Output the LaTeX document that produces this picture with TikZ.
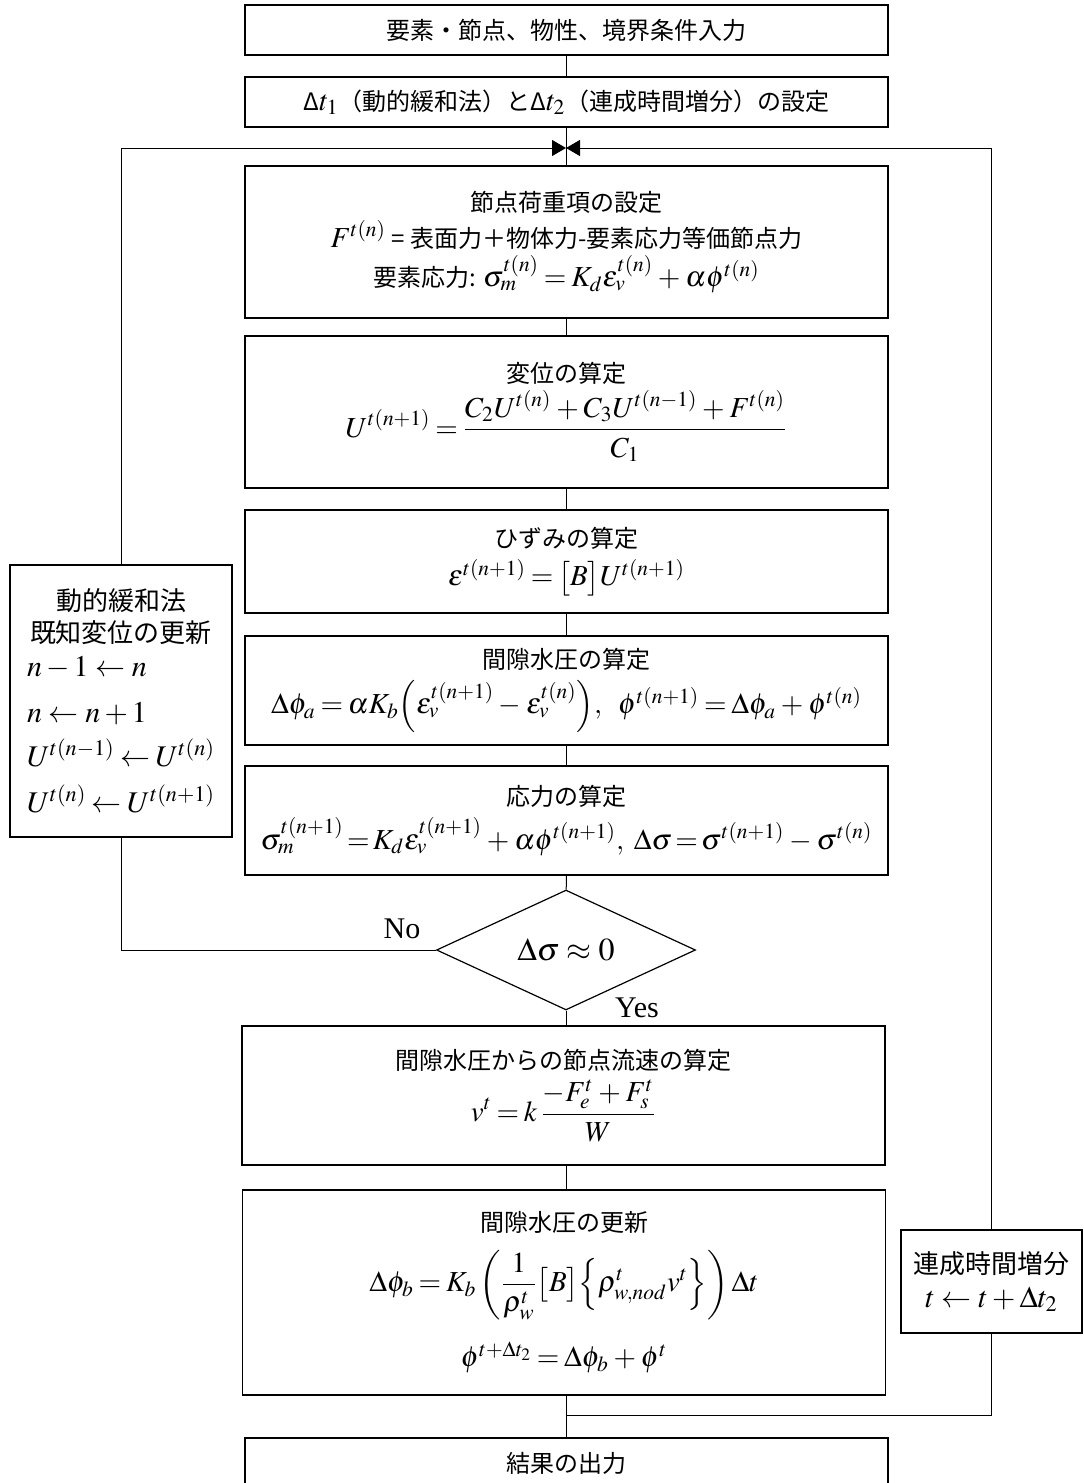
\documentclass[tikz,border=0pt]{standalone}
\usepackage{amsmath}
\usepackage{mathptmx}
\usepackage[no-math]{fontspec}
\setmainfont{Liberation Serif}
\newfontfamily\jp{Noto Sans CJK JP}
\usetikzlibrary{shapes.geometric,arrows.meta}
\newcommand{\eqsize}{\fontsize{14.5}{18}\selectfont\thickmuskip=3mu plus 2mu\medmuskip=3mu plus 1mu}
\newcommand{\sidesize}{\fontsize{15}{19}\selectfont}

\begin{document}
\begin{tikzpicture}[x=0.5pt,y=-0.5pt,
box/.style={draw,line width=0.6pt,minimum width=321.5pt,inner sep=0pt,align=center,font=\jp\fontsize{12}{15}\selectfont},
sidebox/.style={draw,line width=0.6pt,inner sep=0pt,font=\jp\fontsize{13}{17}\selectfont},
link/.style={line width=0.5pt},
back/.style={line width=0.5pt,-{Triangle[length=7pt,width=8pt]}}]
\useasboundingbox (0,0) rectangle (1083,1483);

\node (in1) [box,minimum height=25pt] at (566.5,30) {要素・節点、物性、境界条件入力};
\node (in2) [box,minimum height=25pt] at (566.5,102)
    {Δ{\rmfamily\eqsize$t_1$}（動的緩和法）とΔ{\rmfamily\eqsize$t_2$}（連成時間増分）の設定};
\node (load) [box,minimum height=76pt] at (566.5,242) {節点荷重項の設定\\[3pt]
    {\eqsize$F^{t(n)}$} = 表面力＋物体力-要素応力等価節点力\\[2pt]
    要素応力: {\eqsize$\sigma_m^{t(n)} = K_d\varepsilon_v^{t(n)} + \alpha\phi^{t(n)}$}};
\node (disp) [box,minimum height=76pt] at (566.5,412) {変位の算定\\[2pt]
    {\eqsize$\displaystyle U^{t(n+1)} = \frac{C_2U^{t(n)} + C_3U^{t(n-1)} + F^{t(n)}}{C_1}$}};
\node (strain) [box,minimum height=51.5pt] at (566.5,561.5) {ひずみの算定\\[4pt]
    {\eqsize$\varepsilon^{t(n+1)} = \bigl[B\bigr]U^{t(n+1)}$}};
\node (pore) [box,minimum height=54.5pt] at (566.5,690.5) {間隙水圧の算定\\[4pt]
    {\eqsize$\Delta\phi_a = \alpha K_b\Bigl(\varepsilon_v^{t(n+1)} - \varepsilon_v^{t(n)}\Bigr),\ \ \phi^{t(n+1)} = \Delta\phi_a + \phi^{t(n)}$}};
\node (stress) [box,minimum height=54.5pt] at (566.5,820.5) {応力の算定\\[4pt]
    {\eqsize\thickmuskip=2mu$\sigma_m^{t(n+1)} = K_d\varepsilon_v^{t(n+1)} + \alpha\phi^{t(n+1)},\ \Delta\sigma = \sigma^{t(n+1)} - \sigma^{t(n)}$}};
\node (conv) [diamond,draw,line width=0.6pt,inner sep=0pt,minimum width=129.5pt,minimum height=53pt,font=\fontsize{16}{19}\selectfont] at (566,950)
    {$\Delta\sigma \approx 0$};
\node (flow) [box,minimum height=69.5pt] at (563.5,1095.5) {間隙水圧からの節点流速の算定\\[3pt]
    {\eqsize$\displaystyle v^t = k\,\frac{-F_e^t + F_s^t}{W}$}};
\node (upd) [box,minimum height=102.5pt] at (564,1292.5) {間隙水圧の更新\\[7pt]
    {\eqsize$\displaystyle \Delta\phi_b = K_b\left(\frac{1}{\rho_w^t}\bigl[B\bigr]\Bigl\{\rho_{w,nod}^t v^t\Bigr\}\right)\Delta t$}\\[10pt]
    {\eqsize$\phi^{t+\Delta t_2} = \Delta\phi_b + \phi^t$}};
\node (out) [box,minimum height=25pt] at (566.5,1463) {結果の出力};

\node (relax) [sidebox,minimum width=111pt,minimum height=136pt,text width=94pt,align=left] at (121,701)
    {\makebox[94pt][c]{動的緩和法}\\[-1pt]
     \makebox[94pt][c]{既知変位の更新}\\[0pt]
     {\sidesize$n-1 \leftarrow n$}\\[6pt]
     {\sidesize$n \leftarrow n+1$}\\[5pt]
     {\sidesize$U^{t(n-1)} \leftarrow U^{t(n)}$}\\[6pt]
     {\sidesize$U^{t(n)} \leftarrow U^{t(n+1)}$}};
\node (couple) [sidebox,minimum width=90.5pt,minimum height=51.5pt,align=center] at (991.5,1281.5)
    {連成時間増分\\ {\sidesize$t \leftarrow t + \Delta t_2$}};

\node (no) at (402,929) {\fontsize{15}{18}\selectfont No};
\node (yes) at (637,1008) {\fontsize{15}{18}\selectfont Yes};

\coordinate (merge) at (566,148);
\coordinate (join) at (566,1415);

\draw [link] (in1) -- (in2);
\draw [link] (in2) -- (load);
\draw [link] (load) -- (disp);
\draw [link] (disp) -- (strain);
\draw [link] (strain) -- (pore);
\draw [link] (pore) -- (stress);
\draw [link] (stress) -- (conv);
\draw [link] (conv) -- (flow.north -| conv);
\draw [link] (flow.south -| conv) -- (upd.north -| conv);
\draw [link] (upd.south -| conv) -- (out.north -| conv);
\draw [link] (conv.west) -| (relax.south);
\draw [back] (relax.north) |- (merge);
\draw [link] (join) -| (couple.south);
\draw [back] (couple.north) |- (merge);
\end{tikzpicture}
\end{document}
